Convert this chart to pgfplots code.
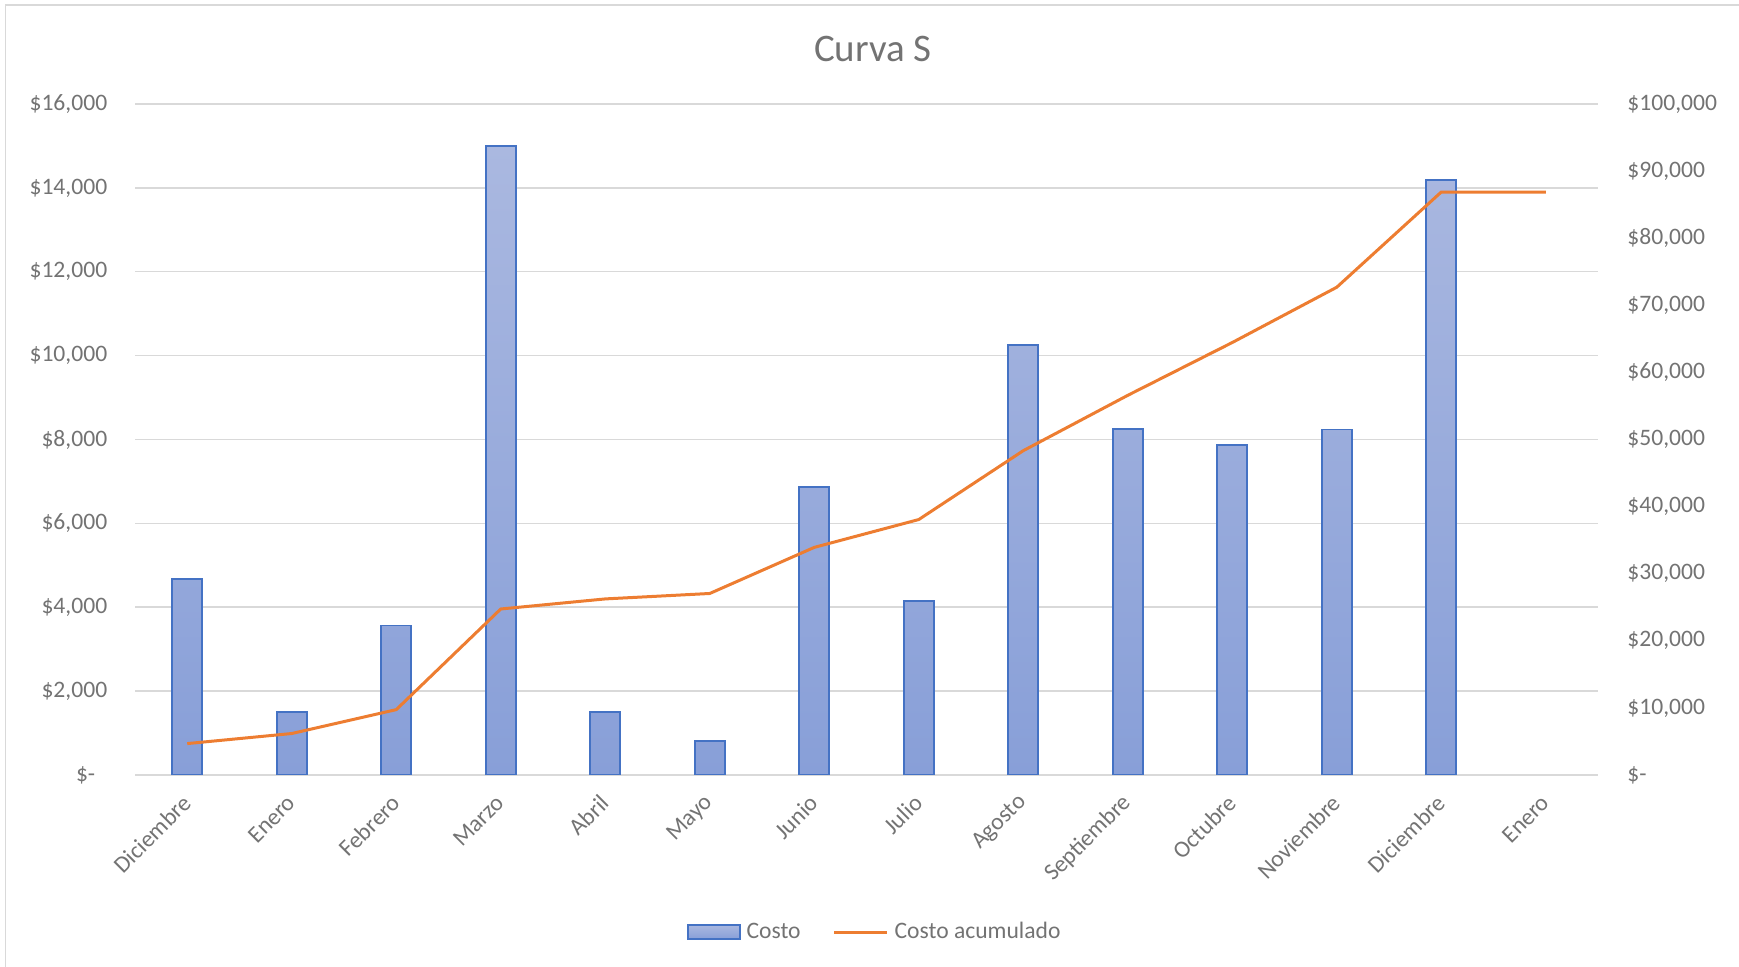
\documentclass[border=0pt]{standalone}
\usepackage{pgfplots}
\pgfplotsset{compat=1.18}
\usepackage{fontspec}
\setmainfont{Carlito}
\definecolor{bartop}{HTML}{AAB8E0}
\definecolor{barbot}{HTML}{889FD8}
\definecolor{barblue}{HTML}{4472C4}
\definecolor{lineor}{HTML}{ED7D31}
\definecolor{gridg}{HTML}{D9D9D9}
\definecolor{txtg}{HTML}{737373}
\begin{document}
\begin{tikzpicture}[x=1pt,y=1pt]
\useasboundingbox (0,0) rectangle (869.5,483.5);
\draw[gridg, line width=0.75pt] (2.85,-5) -- (2.85,481) -- (880,481);
\node[text=txtg, font=\fontsize{19.5}{22}\selectfont] at (436.5,459) {Curva S};
\begin{axis}[
  at={(67.5pt,96pt)}, anchor=south west,
  scale only axis, width=731.5pt, height=335.5pt,
  xmin=-0.5, xmax=13.5, ymin=0, ymax=16000,
  axis line style={draw=none}, major tick length=0pt,
  scaled y ticks=false,
  ymajorgrids, grid style={gridg, line width=0.75pt},
  xtick={0,...,13},
  xticklabels={Diciembre,Enero,Febrero,Marzo,Abril,Mayo,Junio,Julio,Agosto,Septiembre,Octubre,Noviembre,Diciembre,Enero},
  ytick={0,2000,...,16000},
  yticklabels={\$-\kern6pt,\$2{,}000,\$4{,}000,\$6{,}000,\$8{,}000,\$10{,}000,\$12{,}000,\$14{,}000,\$16{,}000},
  tick label style={font=\fontsize{11.8}{14}\selectfont, text=txtg, inner sep=0pt},
  yticklabel style={anchor=east},
  yticklabel shift=13.7pt,
  xticklabel style={rotate=45, anchor=east},
  xticklabel shift=12pt,
  /pgf/number format/assume math mode=true,
]
\addplot[ybar, bar width=15pt, draw=barblue, line width=0.8pt, top color=bartop, bottom color=barbot]
  coordinates {(0,4680) (1,1500) (2,3560) (3,15000) (4,1500) (5,810) (6,6870) (7,4150) (8,10260) (9,8250) (10,7870) (11,8240) (12,14190)};
\end{axis}
\begin{axis}[
  at={(67.5pt,96pt)}, anchor=south west,
  scale only axis, width=731.5pt, height=335.5pt,
  xmin=-0.5, xmax=13.5, ymin=0, ymax=100000,
  axis line style={draw=none}, major tick length=0pt,
  scaled y ticks=false,
  axis y line*=right, axis x line=none,
  ytick={0,10000,...,100000},
  yticklabels={\$-,\$10{,}000,\$20{,}000,\$30{,}000,\$40{,}000,\$50{,}000,\$60{,}000,\$70{,}000,\$80{,}000,\$90{,}000,\$100{,}000},
  tick label style={font=\fontsize{11.8}{14}\selectfont, text=txtg, inner sep=0pt},
  yticklabel style={anchor=west},
  yticklabel shift=14.5pt,
  legend columns=2,
  legend style={at={(0.507,-0.234)}, anchor=center, draw=none, fill=none,
    font=\fontsize{11.8}{14}\selectfont, text=txtg,
    nodes={inner xsep=3pt, inner ysep=1.5pt},
    /tikz/every even column/.append style={column sep=13pt}},
]
\addlegendimage{legend image code/.code={\draw[draw=barblue, line width=0.8pt, top color=bartop, bottom color=barbot] (0pt,-3.5pt) rectangle (26pt,3.5pt);}}
\addlegendentry{Costo}
\addplot[lineor, line width=1.5pt, line join=round, mark=none,
  legend image code/.code={\draw[lineor, line width=1.5pt] (0pt,0pt) -- (26.5pt,0pt);}]
  coordinates {(0,4680) (1,6180) (2,9740) (3,24740) (4,26240) (5,27050) (6,33920) (7,38070) (8,48330) (9,56580) (10,64450) (11,72690) (12,86880) (13,86880)};
\addlegendentry{Costo acumulado}
\end{axis}
\end{tikzpicture}
\end{document}
